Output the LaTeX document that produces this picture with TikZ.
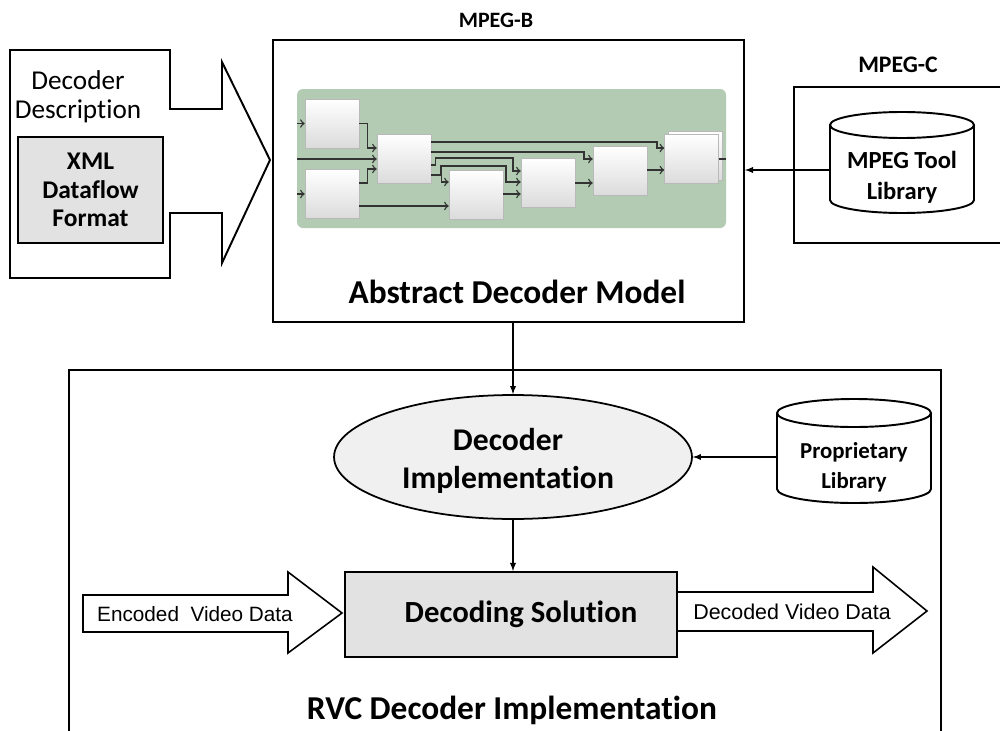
\documentclass[tikz,border=0pt]{standalone}
\usepackage{fontspec}
\setmainfont{Carlito}[Ligatures=NoCommon]
\newfontfamily\arialfont{Liberation Sans}
\usepackage{tikz}
\usetikzlibrary{shapes.geometric}

\definecolor{sage}{RGB}{179,203,179}
\definecolor{boxgray}{RGB}{226,226,226}

\begin{document}
\begin{tikzpicture}[x=0.02cm,y=-0.02cm,>=latex,
	frame/.style={draw,line width=1.1pt},
	link/.style={->,line width=0.6pt},
	fu/.style={draw=gray!55,top color=white,bottom color=gray!28,minimum width=1.08cm,minimum height=0.98cm,inner sep=0pt},
	wire/.style={draw=black!80,line width=0.8pt}]
		\useasboundingbox (0,0) rectangle (1000,730);
		% decoder description
		\draw[frame] (10,50) -- (170,50) -- (170,109) -- (222,109) -- (222,62) -- (270,160) -- (222,263) -- (222,213) -- (170,213) -- (170,278) -- (10,278) -- cycle;
		\node[align=center,font=\fontsize{15.5}{16.5}\selectfont] (desc) at (78,97) {Decoder\\Description};
		\node[frame,fill=boxgray,minimum width=2.9cm,minimum height=2.12cm,align=center,font=\bfseries\fontsize{14.5}{16.2}\selectfont] (xml) at (90.5,190) {XML\\Dataflow\\Format};
		% MPEG-B
		\node[font=\bfseries\fontsize{12.5}{14}\selectfont] (mpegb) at (496,20) {MPEG-B};
		\node[frame,minimum width=9.42cm,minimum height=5.64cm] (adm) at (508.5,181) {};
		\node[font=\bfseries\fontsize{19}{20}\selectfont] (admtxt) at (517,292) {Abstract Decoder Model};
		\fill[sage,rounded corners=1.2mm] (297,89) rectangle (726,228);
		\coordinate (in1) at (297,123.5);
		\coordinate (in2) at (297,194);
		\coordinate (in3) at (297,159);
		\node[fu] (fu1) at (332,123.5) {};
		\node[fu] (fu2) at (332,194) {};
		\node[fu] (fu3) at (404,159) {};
		\node[fu] (fu4) at (476,194.5) {};
		\node[fu] (fu5) at (548,182.5) {};
		\node[fu] (fu6) at (620,171) {};
		\node[fu] (fu7b) at (695,155.5) {};
		\node[fu] (fu7) at (691.5,159) {};
		\draw[wire,-to] (in1) -- (fu1);
		\draw[wire,-to] (in2) -- (fu2);
		\draw[wire,-to] (in3) -- (fu3);
		\draw[wire,-to] (fu1.east) -- ++(8,0) |- (fu3.west |- 0,148);
		\draw[wire,-to] (fu2.east |- 0,183) -- ++(8,0) |- (fu3.west |- 0,169);
		\draw[wire,-to] (fu2.east |- 0,206) -- (fu4.west |- 0,206);
		\draw[wire,-to] (fu3.east |- 0,142) -| (657,148) -- (fu7.west |- 0,148);
		\draw[wire,-to] (fu3.east |- 0,152) -| (584,159) -- (fu6.west |- 0,159);
		\draw[wire,-to] (fu3.east |- 0,165) -- ++(4,0) |- (513,158) |- (fu5.west |- 0,171);
		\draw[wire,-to] (fu3.east |- 0,175) -- ++(10,0) |- (fu4.west |- 0,182);
		\draw[wire,-to] (441,175) |- (506,166) |- (fu5.west |- 0,182);
		\draw[wire,-to] (fu4.east |- 0,194) -- (fu5.west |- 0,194);
		\draw[wire,-to] (fu5.east |- 0,183) -- (fu6.west |- 0,183);
		\draw[wire,-to] (fu6.east |- 0,170) -- (fu7.west |- 0,170);
		\draw[wire] (fu7.east) -- (726,159);
		% MPEG-C
		\node[font=\bfseries\fontsize{13.5}{15}\selectfont] (mpegc) at (898,65) {MPEG-C};
		\draw[frame] (1005,87) -- (794,87) -- (794,243) -- (1005,243);
		\draw[frame,fill=white] (830,125) -- (830,200) arc (180:0:72 and 13) -- (974,125);
		\draw[frame] (902,125) ellipse (72 and 13);
		\node[align=center,minimum width=2.88cm,font=\bfseries\fontsize{14}{17.6}\selectfont] (mtl) at (902,177) {MPEG Tool\\Library};
		\draw[link] (mtl.west |- 0,170) -- (adm.east |- 0,170);
		% RVC decoder implementation
		\draw[frame] (69,735) -- (69,370) -- (941,370) -- (941,735);
		\node[font=\bfseries\fontsize{19}{21}\selectfont] (rvc) at (512,710) {RVC Decoder Implementation};
		\node[ellipse,draw,line width=1pt,fill=gray!12,minimum width=7.16cm,minimum height=2.48cm,inner sep=0pt] (decimpl) at (513,457) {};
		\node[align=center,font=\bfseries\fontsize{18}{21.6}\selectfont] (decimpltxt) at (508,461) {Decoder\\Implementation};
		\draw[link] (decimpl.north |- adm.south) -- (decimpl.north);
		\draw[frame,fill=white] (777,413) -- (777,489) arc (180:0:77 and 14) -- (931,413);
		\draw[frame] (854,413) ellipse (77 and 14);
		\node[align=center,minimum width=3.08cm,font=\bfseries\fontsize{13}{17}\selectfont] (plib) at (854,467) {Proprietary\\Library};
		\draw[link] (plib.west |- decimpl.east) -- (decimpl.east);
		\draw[frame,line width=0.9pt,fill=white] (83,595) -- (288,595) -- (288,572) -- (342,613) -- (288,653) -- (288,632) -- (83,632) -- cycle;
		\node[font=\arialfont\fontsize{11.8}{13}\selectfont] (enc) at (195,614) {Encoded\ \ Video Data};
		\draw[frame,line width=0.9pt,fill=white] (677,592) -- (873,592) -- (873,567) -- (927,611) -- (873,653) -- (873,631) -- (677,631);
		\node[font=\arialfont\fontsize{12.2}{14}\selectfont] (dec) at (792,612) {Decoded Video Data};
		\node[frame,fill=boxgray,minimum width=6.64cm,minimum height=1.7cm,font=\bfseries\fontsize{17.5}{20}\selectfont] (decsol) at (511,614.5) {\hspace*{0.4cm}Decoding Solution};
		\draw[link] (decimpl.south) -- (decimpl.south |- decsol.north);
	\end{tikzpicture}
\end{document}
